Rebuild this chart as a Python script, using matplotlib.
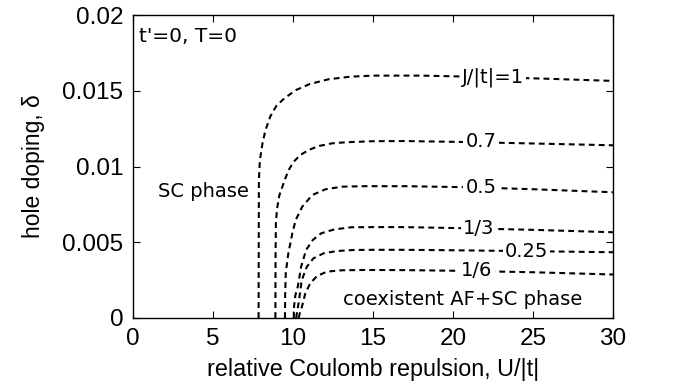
import matplotlib
matplotlib.use('Agg')
import matplotlib.pyplot as plt

# curves: U/|t| and hole doping delta for each J/|t|
u_j1 = [7.85, 7.86, 7.87, 7.93, 8.09, 8.28, 8.58, 8.96, 9.46, 10.19, 11.06, 12.23, 13.6,
        15, 18, 22, 26, 30]
d_j1 = [0, 0.005, 0.0091, 0.0104, 0.0115, 0.0124, 0.0133, 0.0140, 0.0145, 0.01505,
        0.01545, 0.01576, 0.01593, 0.0160, 0.0160, 0.01591, 0.01579, 0.01565]

u_j07 = [8.9, 8.91, 8.93, 9.0, 9.15, 9.48, 9.73, 10.05, 10.46, 10.98, 11.61, 12.44, 13.3,
         15, 17, 20, 25, 30]
d_j07 = [0, 0.004, 0.0062, 0.0072, 0.0081, 0.0091, 0.00977, 0.01032, 0.01076, 0.01109,
         0.01135, 0.01153, 0.0116, 0.01167, 0.01168, 0.01163, 0.01152, 0.0114]

u_j05 = [9.5, 9.51, 9.55, 9.71, 9.96, 10.17, 10.58, 11.21, 12.04, 13.1, 14.5, 17, 21, 25, 30]
d_j05 = [0, 0.0015, 0.003, 0.00427, 0.00559, 0.00647, 0.00735, 0.00812, 0.0085, 0.00867,
         0.0087, 0.0087, 0.00863, 0.0085, 0.0083]

u_j13 = [10.05, 10.07, 10.15, 10.3, 10.51, 10.82, 11.24, 11.76, 12.59, 13.65, 15, 17, 20,
         25, 30]
d_j13 = [0, 0.0008, 0.0015, 0.00207, 0.00339, 0.00449, 0.00515, 0.00559, 0.00585, 0.00599,
         0.0060, 0.0060, 0.00594, 0.00582, 0.00566]

u_j025 = [10.2, 10.27, 10.35, 10.55, 10.87, 11.28, 11.91, 12.74, 13.8, 15, 17, 20, 25, 30]
d_j025 = [0, 0.0005, 0.00097, 0.00251, 0.00339, 0.00394, 0.00427, 0.00442, 0.00449, 0.0045,
          0.0045, 0.00447, 0.00441, 0.00434]

u_j16 = [10.35, 10.45, 10.56, 10.77, 11.08, 11.5, 12.12, 13.05, 14.5, 17, 20, 25, 30]
d_j16 = [0, 0.0004, 0.00075, 0.00163, 0.00229, 0.00277, 0.00306, 0.00315, 0.00317, 0.00316,
         0.00312, 0.00302, 0.00287]

# inline curve labels: text, U position, delta position
curve_labels = ['J/|t|=1', '0.7', '0.5', '1/3', '0.25', '1/6']
label_u = [22.5, 21.75, 21.75, 21.6, 24.6, 21.5]
label_d = [0.0159, 0.01162, 0.00862, 0.00592, 0.00442, 0.00312]

xticks = [0, 5, 10, 15, 20, 25, 30]
yticks = [0, 0.005, 0.01, 0.015, 0.02]
ytick_labels = ['0', '0.005', '0.01', '0.015', '0.02']

fig = plt.figure(figsize=(6.94, 3.92), dpi=100)
ax = fig.add_axes([0.1916, 0.1888, 0.6917, 0.7729])

curves = [(u_j1, d_j1), (u_j07, d_j07), (u_j05, d_j05),
          (u_j13, d_j13), (u_j025, d_j025), (u_j16, d_j16)]
for u, d in curves:
    ax.plot(u, d, color='black', lw=1.5, dashes=(2.8, 2.0), zorder=2)

for txt, x, y in zip(curve_labels, label_u, label_d):
    ax.text(x, y, txt, ha='center', va='center', fontsize=14, family='DejaVu Sans',
            bbox=dict(facecolor='white', edgecolor='none', pad=1.5), zorder=3)

ax.text(0.4, 0.0186, "t'=0, T=0", ha='left', va='center', fontsize=14.5, family='DejaVu Sans')
ax.text(4.4, 0.00835, 'SC phase', ha='center', va='center', fontsize=14, family='DejaVu Sans')
ax.text(20.6, 0.00125, 'coexistent AF+SC phase', ha='center', va='center', fontsize=14,
        family='DejaVu Sans')

ax.set_xlim(0, 30)
ax.set_ylim(0, 0.02)
ax.set_xticks(xticks)
ax.set_xticklabels([str(t) for t in xticks])
ax.set_yticks(yticks)
ax.set_yticklabels(ytick_labels)
ax.tick_params(direction='in', top=True, right=True, length=5, width=0.8,
               labelsize=17.5, pad=7)
for lbl in ax.get_xticklabels() + ax.get_yticklabels():
    lbl.set_family(['Liberation Sans', 'DejaVu Sans'])

ax.set_xlabel('relative Coulomb repulsion, U/|t|', fontsize=16.8,
              family=['Liberation Sans', 'DejaVu Sans'], labelpad=6)
ax.set_ylabel('hole doping, \u03b4', fontsize=16.5,
              family=['Liberation Sans', 'DejaVu Sans'], labelpad=12)
for s in ax.spines.values():
    s.set_linewidth(1.0)

fig.savefig('out.png', dpi=100)
